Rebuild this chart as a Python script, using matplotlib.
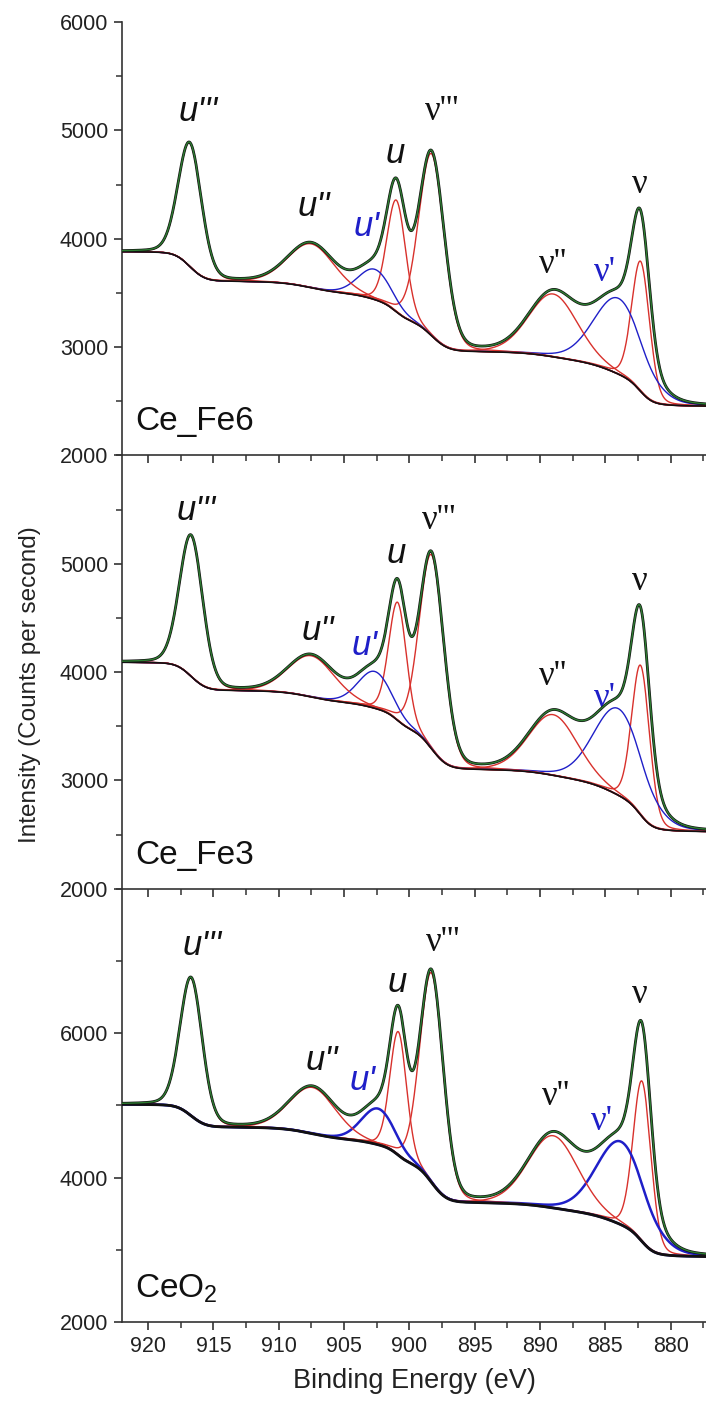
import numpy as np
import matplotlib
matplotlib.use("Agg")
import matplotlib.pyplot as plt
from matplotlib.ticker import MultipleLocator

plt.rcParams['font.family'] = 'Liberation Sans'
plt.rcParams['mathtext.fontset'] = 'custom'
plt.rcParams['mathtext.rm'] = 'Liberation Sans'

# peak order: v, v', v'', v''', u, u', u'', u'''
peak_names = ["ν", "ν'", "ν''", "ν'''", "u", "u'", "u''", "u'''"]
peak_blue = [False, True, False, False, False, True, False, False]

# Ce_Fe6: centre (eV), height above background, FWHM (eV),
# background step under each peak, background level at the low-BE end
centers_fe6 = [882.3, 884.0, 889.0, 898.3, 901.0, 902.65, 907.5, 916.8]
heights_fe6 = [1200, 700, 580, 1680, 1030, 280, 405, 1140]
fwhm_fe6 = [1.6, 4.4, 4.4, 2.3, 1.7, 3.0, 4.2, 2.1]
steps_fe6 = [180, 240, 80, 290, 150, 100, 110, 275]
bg_low_fe6 = 2455
lab_x_fe6 = [882.4, 885.05, 889.0, 897.5, 901.1, 903.3, 907.35, 916.15]
lab_y_fe6 = [4498, 3684, 3760, 5173, 4790, 4113, 4298, 5173]

# Ce_Fe3
centers_fe3 = [882.3, 884.0, 889.0, 898.3, 900.9, 902.65, 907.5, 916.7]
heights_fe3 = [1380, 800, 560, 1790, 1090, 340, 380, 1300]
fwhm_fe3 = [1.6, 4.4, 4.4, 2.2, 1.6, 3.0, 4.2, 2.1]
steps_fe3 = [200, 280, 90, 380, 150, 90, 110, 262]
bg_low_fe3 = 2528
lab_x_fe3 = [882.4, 885.05, 889.0, 897.7, 901.0, 903.4, 907.0, 916.3]
lab_y_fe3 = [4832, 3757, 3957, 5401, 5094, 4249, 4387, 5493]

# CeO2
centers_ceo2 = [882.2, 883.8, 889.0, 898.3, 900.85, 902.4, 907.4, 916.7]
heights_ceo2 = [2220, 1150, 1000, 2900, 1710, 500, 640, 1910]
fwhm_ceo2 = [1.6, 4.4, 4.5, 2.1, 1.5, 3.0, 4.2, 2.0]
steps_ceo2 = [280, 340, 120, 560, 200, 120, 170, 317]
bg_low_ceo2 = 2907
lab_x_ceo2 = [882.35, 885.3, 888.8, 897.45, 900.9, 903.55, 906.7, 915.9]
lab_y_ceo2 = [6542, 4782, 5129, 7260, 6704, 5338, 5615, 7213]

samples = ["Ce_Fe6", "Ce_Fe3", r"CeO$_\mathregular{2}$"]
ylims = [(2000, 6000), (2000, 6000), (2000, 8000)]
yticks = [[2000, 3000, 4000, 5000, 6000], [2000, 3000, 4000, 5000], [2000, 4000, 6000]]

RED = '#d8312c'
BLUE = '#1f1fc8'
GREEN = '#2e7d32'

energy = np.linspace(877.3, 922.0, 1200)


def pv(x, c, h, w, eta=0.15):
    g = np.exp(-4 * np.log(2) * ((x - c) / w) ** 2)
    l = 1. / (1 + 4 * ((x - c) / w) ** 2)
    return h * ((1 - eta) * g + eta * l)


def draw_panel(ax, centers, heights, fwhm, steps, bg_low, lab_x, lab_y, sample, blue_lw):
    comps = [pv(energy, c, h, w) for c, h, w in zip(centers, heights, fwhm)]
    total = np.sum(comps, axis=0)
    # Shirley-like background: one step under each component, shaped by its area
    bg = np.full_like(energy, float(bg_low))
    for comp, s in zip(comps, steps):
        cum = np.concatenate([[0.], np.cumsum(0.5 * (comp[1:] + comp[:-1]) * np.diff(energy))])
        bg += s * cum / cum[-1]

    ax.plot(energy, bg, color='#111111', lw=blue_lw + 0.2, zorder=3)
    for comp, is_blue in zip(comps, peak_blue):
        if is_blue:
            ax.plot(energy, bg + comp, color=BLUE, lw=blue_lw, zorder=2)
        else:
            ax.plot(energy, bg + comp, color=RED, lw=1.0, zorder=2)
    ax.plot(energy, bg + total, color='#111111', lw=2.0, zorder=4)
    ax.plot(energy, bg + total, color=GREEN, lw=1.0, zorder=5)

    for name, is_blue, x, y in zip(peak_names, peak_blue, lab_x, lab_y):
        col = BLUE if is_blue else '#111111'
        if name.startswith('u'):
            ax.text(x, y, name, color=col, fontsize=25, style='italic',
                    ha='center', va='center')
        else:
            ax.text(x, y, name, color=col, fontsize=25, family='Liberation Serif',
                    ha='center', va='center')
    ax.text(0.022, 0.058, sample, transform=ax.transAxes, fontsize=24,
            ha='left', va='baseline', color='#111111')


fig, axes = plt.subplots(3, 1, figsize=(7.06, 14.03), dpi=100, sharex=True)
fig.subplots_adjust(left=0.1728, right=1.0, top=0.9843, bottom=0.0577, hspace=0)

data = [
    (centers_fe6, heights_fe6, fwhm_fe6, steps_fe6, bg_low_fe6, lab_x_fe6, lab_y_fe6, 1.0),
    (centers_fe3, heights_fe3, fwhm_fe3, steps_fe3, bg_low_fe3, lab_x_fe3, lab_y_fe3, 1.0),
    (centers_ceo2, heights_ceo2, fwhm_ceo2, steps_ceo2, bg_low_ceo2, lab_x_ceo2, lab_y_ceo2, 1.8),
]
minor_steps = [500, 500, 1000]

for i, ax in enumerate(axes):
    c, h, w, st, bl, lx, ly, blw = data[i]
    draw_panel(ax, c, h, w, st, bl, lx, ly, samples[i], blw)
    ax.set_ylim(*ylims[i])
    ax.set_yticks(yticks[i])
    ax.yaxis.set_minor_locator(MultipleLocator(minor_steps[i]))
    ax.patch.set_visible(False)
    for s in ['top', 'right']:
        ax.spines[s].set_visible(False)
    for s in ['left', 'bottom']:
        ax.spines[s].set_color('#333333')
        ax.spines[s].set_linewidth(1.2)
    ax.tick_params(which='major', direction='out', length=6, width=1.2,
                   labelsize=15.5, color='#333333', labelcolor='#222222', pad=4)
    ax.tick_params(which='minor', direction='out', length=4, width=1.1, color='#333333')
    if i < 2:
        ax.tick_params(axis='x', labelbottom=False)

axes[-1].set_xlim(922.0, 877.3)
axes[-1].set_xticks(np.arange(920, 877, -5))
axes[-1].xaxis.set_minor_locator(MultipleLocator(2.5))
axes[-1].set_xlabel("Binding Energy (eV)", fontsize=19.5, color='#222222', labelpad=8)

fig.text(30 / 706, 1 - 685 / 1403, "Intensity (Counts per second)", rotation=90,
         fontsize=17.5, ha='center', va='center', color='#222222')

fig.savefig("out.png", dpi=100)
